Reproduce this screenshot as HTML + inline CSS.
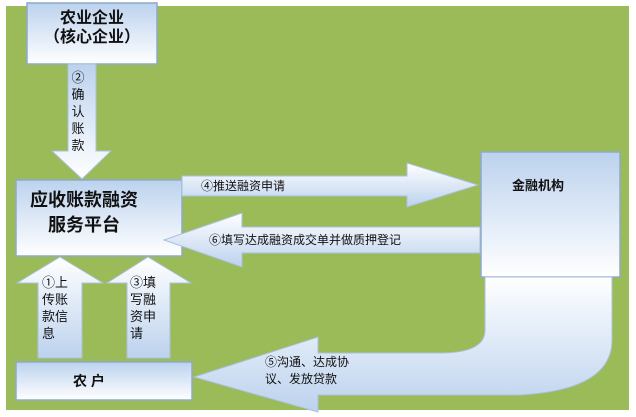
<!DOCTYPE html>
<html><head><meta charset="utf-8"><style>
body{margin:0;background:#fff;width:636px;height:417px;overflow:hidden;font-family:"Liberation Sans","Noto Sans CJK SC",sans-serif}
</style></head><body>
<svg width="636" height="417" xmlns="http://www.w3.org/2000/svg" style="position:absolute;left:0;top:0">
<defs>
<linearGradient id="bv" x1="0" y1="0" x2="0" y2="1"><stop offset="0" stop-color="#bcd2ee"/><stop offset="1" stop-color="#ffffff"/></linearGradient>
<linearGradient id="bv2" x1="0" y1="0" x2="0" y2="1"><stop offset="0" stop-color="#ffffff"/><stop offset="1" stop-color="#bcd2ee"/></linearGradient>
<linearGradient id="bh" x1="0" y1="0" x2="1" y2="0"><stop offset="0" stop-color="#ffffff"/><stop offset="1" stop-color="#c6d9f0"/></linearGradient>
</defs>
<rect x="6" y="6" width="623" height="404" fill="#9bbb59"/>
<!-- top box -->
<rect x="27" y="3" width="130" height="61" fill="url(#bv)" stroke="#8eaacc" stroke-width="1.5"/>
<!-- down arrow -->
<polygon points="68,64 96,64 96,151 111,151 82,179 52,151 68,151" fill="url(#bv)" stroke="#a9c0dc"/>
<!-- platform -->
<rect x="16" y="180" width="166" height="76" fill="url(#bv)" stroke="#8eaacc" stroke-width="1.5"/>
<!-- arrow 4 -->
<polygon points="182,176 407,176 407,163 478,185 407,207 407,196 182,196" fill="url(#bv2)" stroke="#a9c0dc"/>
<!-- arrow 6 -->
<polygon points="480,227 242,227 242,213 164,240 242,267 242,253 480,253" fill="url(#bv2)" stroke="#a9c0dc"/>
<!-- finance box -->
<rect x="481" y="152" width="139" height="125" fill="url(#bv)" stroke="#8eaacc" stroke-width="1.5"/>
<!-- up arrows -->
<polygon points="60,257 103,283 82,283 82,358 38,358 38,283 17,283" fill="url(#bv2)" stroke="#a9c0dc"/>
<polygon points="148,257 191,283 170,283 170,358 127,358 127,283 107,283" fill="url(#bv2)" stroke="#a9c0dc"/>
<!-- farmer box -->
<rect x="16" y="362" width="176" height="38" fill="url(#bv)" stroke="#8eaacc" stroke-width="1.5"/>
<!-- arrow 5 U -->
<path d="M485,277 L485,330 Q485,353 440,353 L318,353 L318,337 L194,377 L318,412 L318,395 L520,395 Q612,390 612,340 L612,277 Z" fill="url(#bv2)" stroke="#a9c0dc"/>
<g font-family="'Liberation Sans','Noto Sans CJK SC',sans-serif" fill="#111">
<text x="92" y="23" font-size="16" font-weight="bold" text-anchor="middle">农业企业</text>
<text x="92" y="42" font-size="16" font-weight="bold" text-anchor="middle">（核心企业）</text>
<g font-size="13" text-anchor="middle"><text x="78" y="82">②</text><text x="78" y="99">确</text><text x="78" y="116">认</text><text x="78" y="133">账</text><text x="78" y="150">款</text></g>
<text x="30" y="206" font-size="18" font-weight="bold">应收账款融资</text>
<text x="48" y="231" font-size="18" font-weight="bold">服务平台</text>
<text x="201" y="190" font-size="12">④推送融资申请</text>
<text x="209" y="244" font-size="12">⑥填写达成融资成交单并做质押登记</text>
<text x="512" y="190" font-size="13" font-weight="bold">金融机构</text>
<g font-size="13"><text x="42" y="287">①上</text><text x="42" y="304">传账</text><text x="42" y="321">款信</text><text x="42" y="338">息</text>
<text x="130" y="287">③填</text><text x="130" y="304">写融</text><text x="130" y="321">资申</text><text x="130" y="338">请</text></g>
<text x="73" y="386" font-size="14" font-weight="bold">农 户</text>
<text x="265" y="366" font-size="12">⑤沟通、达成协</text>
<text x="265" y="383" font-size="12">议、发放贷款</text>
</g>
</svg>
</body></html>
